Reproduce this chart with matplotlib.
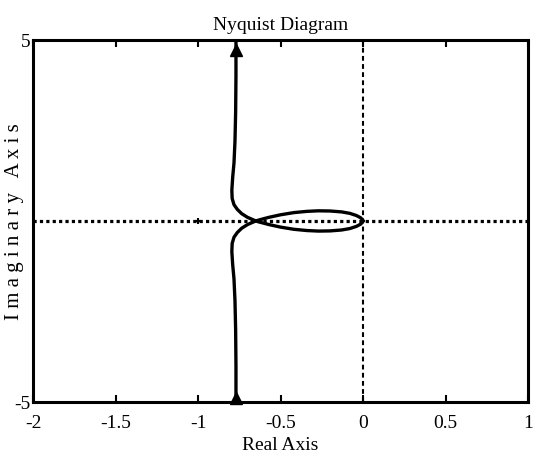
import numpy as np
import matplotlib
matplotlib.use("Agg")
import matplotlib.pyplot as plt

# ---- data (Nyquist diagram) ----
# branch for positive frequencies, coming down from the top (imag > 0)
branch_re = [-0.77, -0.77, -0.772, -0.776, -0.782, -0.79, -0.795, -0.793, -0.782, -0.762, -0.735, -0.70, -0.675, -0.65]
branch_im = [5.0, 4.0, 3.0, 2.2, 1.6, 1.2, 0.85, 0.62, 0.45, 0.32, 0.2, 0.1, 0.05, 0.0]
# loop half that the branch runs into after the crossing (imag < 0)
loop_re = [-0.62, -0.57, -0.50, -0.42, -0.34, -0.27, -0.20, -0.13, -0.08, -0.04, -0.015, -0.004, 0.0]
loop_im = [-0.04, -0.10, -0.17, -0.23, -0.265, -0.28, -0.275, -0.25, -0.21, -0.15, -0.09, -0.04, 0.0]
# direction arrows
arrow_re = [-0.77, -0.77]
arrow_im = [4.72, -4.88]
# critical point
crit_re = [-1.0]
crit_im = [0.0]

x_ticks = [-2, -1.5, -1, -0.5, 0, 0.5, 1]
x_ticklabels = ["-2", "-1.5", "-1", "-0.5", "0", "0.5", "1"]
y_ticks = [-5, 5]
y_ticklabels = ["-5", "5"]
title = "Nyquist Diagram"
xlabel = "Real Axis"
ylabel = "I m a g i n a r y   A x i s"

plt.rcParams["font.family"] = ["Liberation Serif", "DejaVu Serif"]

fig = plt.figure(figsize=(5.36, 4.60), dpi=100)
ax = fig.add_axes([0.0616, 0.124, 0.9235, 0.787])

# Zero lines
ax.axhline(0, color="black", lw=2.3, linestyle=(0, (1, 1.0)), zorder=1)
ax.axvline(0, color="black", lw=1.5, linestyle=(0, (2.3, 1.6)), zorder=1)

# Nyquist curve: branch + loop, and its mirror image
re1 = np.array(branch_re + loop_re)
im1 = np.array(branch_im + loop_im)
ax.plot(re1, im1, color="black", lw=2.4, solid_joinstyle="round", zorder=3)
ax.plot(re1, -im1, color="black", lw=2.4, solid_joinstyle="round", zorder=3)

ax.plot(arrow_re, arrow_im, linestyle="none", marker="^", markersize=8,
        color="black", zorder=4, clip_on=False)
ax.plot(crit_re, crit_im, linestyle="none", marker="+", markersize=5,
        mew=1.5, color="black", zorder=4)

ax.set_xlim(-2, 1)
ax.set_ylim(-5, 5)
ax.set_xticks(x_ticks)
ax.set_xticklabels(x_ticklabels)
ax.set_yticks(y_ticks)
ax.set_yticklabels(y_ticklabels)

ax.tick_params(axis="x", direction="in", top=True, bottom=True, length=5,
               width=1.5, labelsize=14, pad=9)
ax.tick_params(axis="y", direction="in", left=True, right=False, length=0,
               labelsize=14, pad=2)

for s in ax.spines.values():
    s.set_linewidth(2.2)

ax.set_title(title, fontsize=14, pad=8)
ax.set_xlabel(xlabel, fontsize=14, labelpad=3)
ax.set_ylabel(ylabel, fontsize=15, labelpad=-7)

fig.savefig("out.png", dpi=100)
